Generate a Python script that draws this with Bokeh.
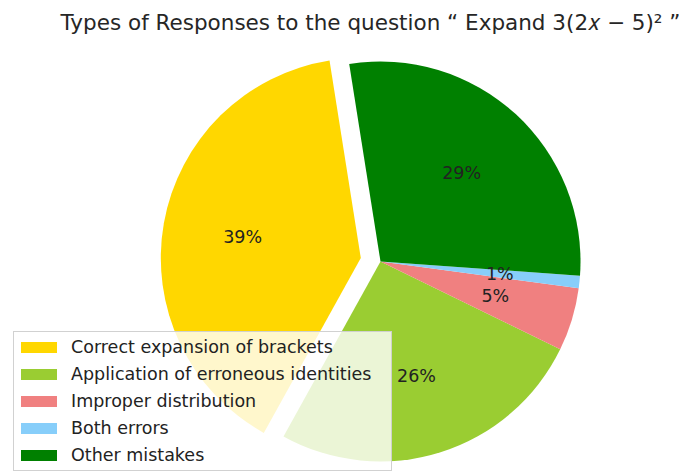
import numpy as np
from bokeh.plotting import figure
from bokeh.models import ColumnDataSource, Legend, LegendItem, Label, Range1d
from bokeh.core.properties import value
from bokeh.embed import file_html
from bokeh.resources import INLINE

# ---- data ----
categories = ["Correct expansion of brackets",
              "Application of erroneous identities",
              "Improper distribution",
              "Both errors",
              "Other mistakes"]
shares = [39.4, 25.8, 5.1, 1.0, 28.6]
colors = ["gold", "yellowgreen", "lightcoral", "lightskyblue", "green"]
explode = [0.1, 0.0, 0.0, 0.0, 0.0]
start_deg = 99.0
title_text = "Types of Responses to the question \u201c Expand 3(2\U0001D465 \u2212 5)\u00b2 \u201d"

# ---- layout ----
W, H = 679, 472
CX, CY = 380, 211      # pie centre in px from the frame's bottom-left
R_PX = 200             # pie radius in px

vals = np.array(shares, dtype=float)
frac = vals / vals.sum()
ends = np.deg2rad(start_deg) + 2 * np.pi * np.cumsum(frac)
starts = ends - 2 * np.pi * frac
mids = (starts + ends) / 2
ex = np.array(explode)
xs = ex * np.cos(mids)
ys = ex * np.sin(mids)
lx = xs + 0.6 * np.cos(mids)
ly = ys + 0.6 * np.sin(mids)
pct = ["%1.0f%%" % (f * 100) for f in frac]

src = ColumnDataSource(dict(x=xs, y=ys, start=starts, end=ends, color=colors,
                            label=categories))
lab = ColumnDataSource(dict(x=lx, y=ly, text=pct))

p = figure(width=W, height=H, output_backend="svg", toolbar_location=None,
           x_range=Range1d(-CX / R_PX, (W - CX) / R_PX),
           y_range=Range1d(-CY / R_PX, (H - CY) / R_PX),
           min_border=0)
p.axis.visible = False
p.grid.visible = False
p.outline_line_color = None
p.background_fill_color = "white"

r = p.wedge(x="x", y="y", radius=1.0, start_angle="start", end_angle="end",
            direction="anticlock", fill_color="color", line_color=None, source=src)

p.text(x="x", y="y", text="text", source=lab, text_align="center",
       text_baseline="middle", text_font=value("DejaVu Sans"),
       text_font_size="17.5px", text_color="#222222")

legend = Legend(items=[LegendItem(label=c, renderers=[r], index=i)
                       for i, c in enumerate(categories)],
                location=(13, 1),
                label_text_font="DejaVu Sans", label_text_font_size="17.5px",
                label_text_color="#222222",
                glyph_width=45, glyph_height=14, label_standoff=10,
                label_height=26, label_width=318, spacing=1, padding=2, margin=0,
                background_fill_color="white", background_fill_alpha=0.8,
                border_line_color="#cccccc", border_line_alpha=0.9)
p.add_layout(legend)

p.add_layout(Label(x=370, y=450, x_units="screen", y_units="screen",
                   text=title_text, text_align="center", text_baseline="alphabetic",
                   text_font="DejaVu Sans", text_font_size="21.5px",
                   text_color="#262626"))

open("out.html", "w").write(file_html(p, INLINE))
